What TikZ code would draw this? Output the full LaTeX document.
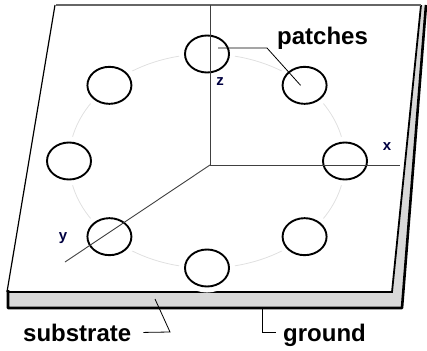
\documentclass[tikz,border=0pt]{standalone}
\usepackage{fontspec}
\setmainfont{Liberation Sans}
\usetikzlibrary{shapes.geometric}
\tikzset{
  patch/.style = {draw, ellipse, line width=1.9pt, minimum width=44pt, minimum height=37pt,
    inner sep=0pt, preaction={draw=white, fill=white, line width=12pt}},
  axis/.style = {draw=black!75, line width=0.9pt},
  axis label/.style = {font=\fontsize{15}{17}\selectfont\bfseries, text=blue!25!black},
  big label/.style = {font=\fontsize{24}{26}\selectfont\bfseries, anchor=base west, inner sep=0pt},
  leader/.style = {draw, line width=0.8pt}
}

\begin{document}
\begin{tikzpicture}[x=1pt, y=-1pt]
\useasboundingbox (0,0) rectangle (427,350);
% slab: substrate and ground
\fill[black!15] (7,292) -- (392,292) -- (421,5) -- (426,6) -- (402,308) -- (7,308) -- cycle;
\draw[line width=2.6pt, line join=round] (8,290) -- (8,308) -- (402,308) -- (426,5);
\draw[line width=1.8pt] (7,292) -- (392,292) -- (421,5);
\draw[line width=1.2pt] (7,292) -- (55,5);
\draw[black!60, line width=1.1pt] (56,5) -- (421,5);
% ring of patches
\draw[black!12, line width=0.8pt] (207,161) ellipse [x radius=138pt, y radius=107pt];
\foreach \i in {0,...,7}
  \node[patch] (p\i) at ({207+138*cos(45*\i)}, {161-107*sin(45*\i)}) {};
% axes
\coordinate (O) at (210,165);
\coordinate (zend) at (210,5);
\coordinate (xend) at (400,165);
\coordinate (yend) at (65,262);
\draw[axis] (O) -- (zend);
\draw[axis] (O) -- (xend);
\draw[axis] (O) -- (yend);
\node[axis label] (zlab) at (220,82) {z};
\node[axis label] (xlab) at (387,147) {x};
\node[axis label] (ylab) at (63,238) {y};
% labels
\node[big label] (patches) at (277,45) {patches};
\node[big label] (substrate) at (23,341) {substrate};
\node[big label] (ground) at (283,341) {ground};
\coordinate (pbend) at (267,48);
\coordinate (sub) at (155,299);
\coordinate (subbend) at (170,332);
\coordinate (gnd) at (262,309);
\coordinate (gndend) at (276,332);
\draw[leader] ([shift={(11,-6)}]p2.center) -- (pbend) -- ([xshift=-4pt]p1.center);
\draw[leader] ([xshift=12pt]substrate.east) -- (subbend) -- (sub);
\draw[leader] (gnd) |- (gndend);
\end{tikzpicture}
\end{document}
